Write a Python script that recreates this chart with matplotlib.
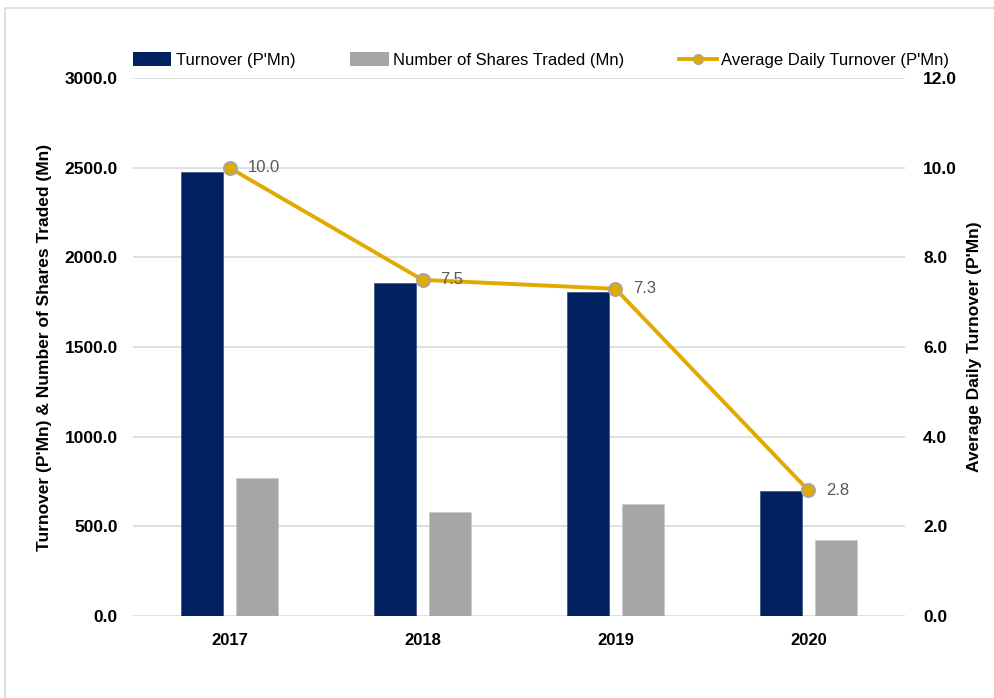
import matplotlib.pyplot as plt
import numpy as np
from matplotlib.lines import Line2D
from matplotlib.patches import Patch, Rectangle

# Yearly market activity figures
years = ["2017", "2018", "2019", "2020"]
turnover = [2476.0, 1857.0, 1807.0, 697.0]
shares_traded = [770.0, 580.0, 625.0, 424.0]
avg_daily_turnover = [10.0, 7.5, 7.3, 2.8]

navy = "#002060"
grey = "#a6a6a6"
gold = "#e1aa00"
grid_col = "#d9d9d9"

plt.rcParams['font.family'] = ['Liberation Sans', 'DejaVu Sans']

fig = plt.figure(figsize=(9.95, 6.98), dpi=100)
ax = fig.add_axes([0.1337, 0.1175, 0.7758, 0.7705])
ax2 = ax.twinx()

x = np.arange(len(years))
w = 0.22
off = 0.142
ax.bar(x - off, turnover, width=w, color=navy, edgecolor="#3a4f80", linewidth=0.5, zorder=2)
ax.bar(x + off, shares_traded, width=w, color=grey, edgecolor="#c8c8c8", linewidth=0.5, zorder=2)

ax.set_xlim(-0.5, len(years) - 0.5)
ax.set_ylim(0, 3000)
ax.set_yticks(np.arange(0, 3001, 500))
ax.yaxis.set_major_formatter(plt.FuncFormatter(lambda v, p: f"{v:.1f}"))
ax.set_xticks(x)
ax.set_xticklabels(years)
ax.grid(axis='y', color=grid_col, linewidth=1.2, zorder=0)
ax.set_axisbelow(True)
for s in ax.spines.values():
    s.set_visible(False)
ax.tick_params(axis='both', length=0, labelsize=12.5, colors='black')
ax.tick_params(axis='y', pad=11)
ax.tick_params(axis='x', pad=12, labelsize=12)
for lab in ax.get_xticklabels() + ax.get_yticklabels():
    lab.set_fontweight('bold')
ax.set_ylabel("Turnover (P'Mn) & Number of Shares Traded (Mn)", fontsize=12.5,
              fontweight='bold', labelpad=9)

# Average daily turnover line on the secondary axis
ax2.plot(x, avg_daily_turnover, color=gold, linewidth=2.8, marker='o', markersize=9.5,
         markerfacecolor=gold, markeredgecolor="#a6a6a6", markeredgewidth=1.3, zorder=3)
for xi, v in zip(x, avg_daily_turnover):
    ax2.annotate(f"{v:.1f}", (xi, v), xytext=(13, 0), textcoords='offset points',
                 ha='left', va='center', fontsize=12, color="#595959")
ax2.set_ylim(0, 12)
ax2.set_yticks(np.arange(0, 12.1, 2))
ax2.yaxis.set_major_formatter(plt.FuncFormatter(lambda v, p: f"{v:.1f}"))
for s in ax2.spines.values():
    s.set_visible(False)
ax2.tick_params(axis='y', length=0, labelsize=12.5, pad=13)
for lab in ax2.get_yticklabels():
    lab.set_fontweight('bold')
ax2.set_ylabel("Average Daily Turnover (P'Mn)", fontsize=12.5, fontweight='bold', labelpad=7)

handles = [
    Patch(facecolor=navy, label="Turnover (P'Mn)"),
    Patch(facecolor=grey, label="Number of Shares Traded (Mn)"),
    Line2D([0], [0], color=gold, linewidth=2.8, marker='o', markersize=7,
           markerfacecolor=gold, markeredgecolor="#a6a6a6", label="Average Daily Turnover (P'Mn)"),
]
fig.legend(handles=handles, loc='center', bbox_to_anchor=(0.544, 0.914), ncol=3,
           frameon=False, fontsize=12, handlelength=2.3, handleheight=0.9,
           columnspacing=3.3, handletextpad=0.25)

# light frame around the chart
fig.patches.append(Rectangle((5 / 995, -0.1), 2, 1.1 - 8 / 698, transform=fig.transFigure,
                             fill=False, edgecolor=grid_col, linewidth=1.2))

plt.savefig("out.png", dpi=100)
